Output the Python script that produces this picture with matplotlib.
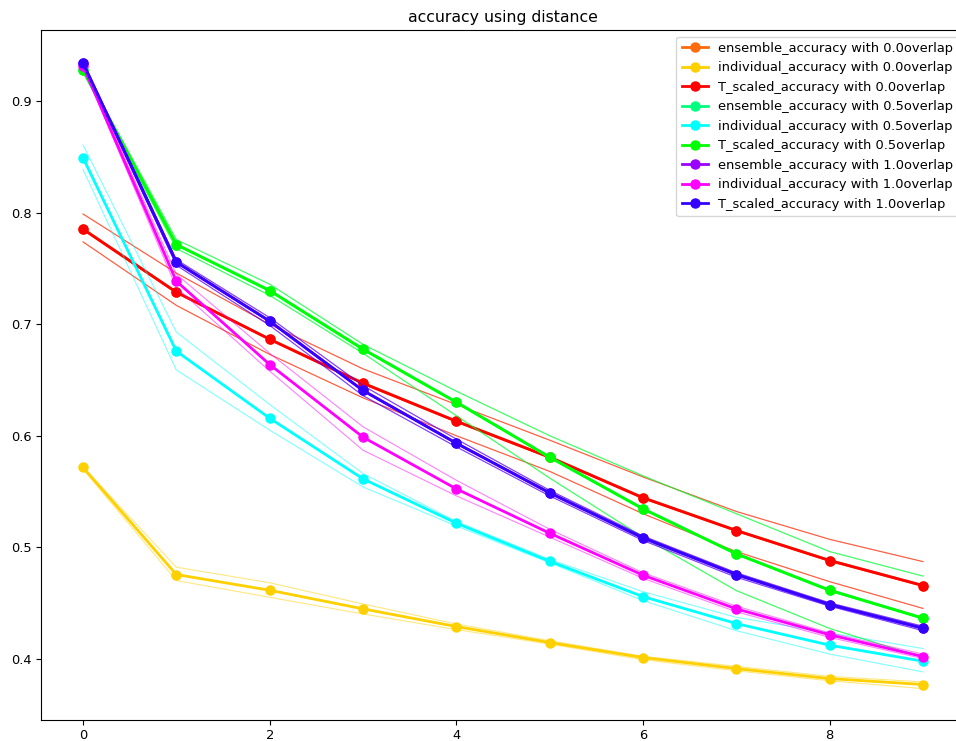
import numpy as np
from matplotlib import pyplot as plt

distance = np.arange(10)

# overlap 0.0
ens_00 = [0.7854, 0.7288, 0.6866, 0.6471, 0.6130, 0.5807, 0.5443, 0.5149, 0.4880, 0.4655]
ens_00_hi = [0.799, 0.746, 0.700, 0.660, 0.628, 0.596, 0.563, 0.532, 0.507, 0.487]
ens_00_lo = [0.774, 0.717, 0.673, 0.634, 0.600, 0.568, 0.530, 0.496, 0.469, 0.445]
ind_00 = [0.5715, 0.4754, 0.4613, 0.4446, 0.4287, 0.4144, 0.4009, 0.3910, 0.3820, 0.3767]
ind_00_hi = [0.572, 0.482, 0.468, 0.449, 0.431, 0.416, 0.402, 0.393, 0.384, 0.379]
ind_00_lo = [0.570, 0.470, 0.455, 0.440, 0.426, 0.413, 0.399, 0.389, 0.380, 0.373]
ts_00 = [0.7854, 0.7288, 0.6866, 0.6471, 0.6130, 0.5807, 0.5443, 0.5149, 0.4880, 0.4655]
ts_00_hi = [0.799, 0.746, 0.700, 0.660, 0.628, 0.596, 0.563, 0.532, 0.507, 0.487]
ts_00_lo = [0.774, 0.717, 0.673, 0.634, 0.600, 0.568, 0.530, 0.496, 0.469, 0.445]

# overlap 0.5
ens_05 = [0.9284, 0.7716, 0.7303, 0.6777, 0.6301, 0.5807, 0.5344, 0.4940, 0.4613, 0.4362]
ens_05_hi = [0.930, 0.776, 0.736, 0.682, 0.640, 0.600, 0.564, 0.530, 0.496, 0.474]
ens_05_lo = [0.926, 0.768, 0.726, 0.674, 0.618, 0.562, 0.509, 0.461, 0.427, 0.401]
ind_05 = [0.8495, 0.6759, 0.6157, 0.5613, 0.5215, 0.4873, 0.4556, 0.4314, 0.4120, 0.3976]
ind_05_hi = [0.861, 0.693, 0.628, 0.566, 0.523, 0.489, 0.460, 0.437, 0.423, 0.409]
ind_05_lo = [0.839, 0.659, 0.605, 0.554, 0.519, 0.486, 0.452, 0.425, 0.404, 0.388]
ts_05 = [0.9284, 0.7716, 0.7303, 0.6777, 0.6301, 0.5807, 0.5344, 0.4940, 0.4613, 0.4362]
ts_05_hi = [0.930, 0.776, 0.736, 0.682, 0.640, 0.600, 0.564, 0.530, 0.496, 0.474]
ts_05_lo = [0.926, 0.768, 0.726, 0.674, 0.618, 0.562, 0.509, 0.461, 0.427, 0.401]

# overlap 1.0
ens_10 = [0.9344, 0.7558, 0.7028, 0.6406, 0.5933, 0.5487, 0.5083, 0.4754, 0.4485, 0.4272]
ens_10_hi = [0.936, 0.758, 0.706, 0.645, 0.597, 0.551, 0.510, 0.477, 0.450, 0.429]
ens_10_lo = [0.933, 0.753, 0.699, 0.636, 0.590, 0.546, 0.506, 0.473, 0.447, 0.425]
ind_10 = [0.9320, 0.7387, 0.6639, 0.5987, 0.5523, 0.5125, 0.4748, 0.4446, 0.4213, 0.4018]
ind_10_hi = [0.933, 0.745, 0.674, 0.608, 0.560, 0.516, 0.477, 0.447, 0.423, 0.404]
ind_10_lo = [0.931, 0.733, 0.658, 0.587, 0.546, 0.509, 0.472, 0.442, 0.419, 0.400]
ts_10 = [0.9344, 0.7558, 0.7028, 0.6406, 0.5933, 0.5487, 0.5083, 0.4754, 0.4485, 0.4272]
ts_10_hi = [0.936, 0.758, 0.706, 0.645, 0.597, 0.551, 0.510, 0.477, 0.450, 0.429]
ts_10_lo = [0.933, 0.753, 0.699, 0.636, 0.590, 0.546, 0.506, 0.473, 0.447, 0.425]

series = [
    ('ensemble_accuracy with 0.0overlap', ens_00, ens_00_hi, ens_00_lo, '#ff6a0a'),
    ('individual_accuracy with 0.0overlap', ind_00, ind_00_hi, ind_00_lo, '#ffd000'),
    ('T_scaled_accuracy with 0.0overlap', ts_00, ts_00_hi, ts_00_lo, '#ff0000'),
    ('ensemble_accuracy with 0.5overlap', ens_05, ens_05_hi, ens_05_lo, '#00ff7f'),
    ('individual_accuracy with 0.5overlap', ind_05, ind_05_hi, ind_05_lo, '#00ffff'),
    ('T_scaled_accuracy with 0.5overlap', ts_05, ts_05_hi, ts_05_lo, '#00ff00'),
    ('ensemble_accuracy with 1.0overlap', ens_10, ens_10_hi, ens_10_lo, '#9a00ff'),
    ('individual_accuracy with 1.0overlap', ind_10, ind_10_hi, ind_10_lo, '#ff00ff'),
    ('T_scaled_accuracy with 1.0overlap', ts_10, ts_10_hi, ts_10_lo, '#3300ff'),
]

# the reference looks like a slightly shrunk default figure
plt.rcParams['font.size'] = 9.4
plt.rcParams['xtick.major.size'] = 3.3
plt.rcParams['ytick.major.size'] = 3.3
plt.rcParams['xtick.major.pad'] = 3.3
plt.rcParams['ytick.major.pad'] = 3.3

fig = plt.figure(figsize=(9.56, 7.41), dpi=100)
ax = fig.add_axes([41 / 956, 21 / 741, 924 / 956, 690 / 741])

for label, mean, hi, lo, color in series:
    ax.plot(distance, mean, color=color, marker='o', markersize=6.5, linewidth=2.0, label=label)
    ax.plot(distance, hi, color=color, linewidth=0.8, alpha=0.5)
    ax.plot(distance, lo, color=color, linewidth=0.8, alpha=0.5)

ax.set_title('accuracy using distance', fontsize=11.3, pad=5.6)
ax.legend(loc='upper right')

fig.savefig('out.png', dpi=100)
